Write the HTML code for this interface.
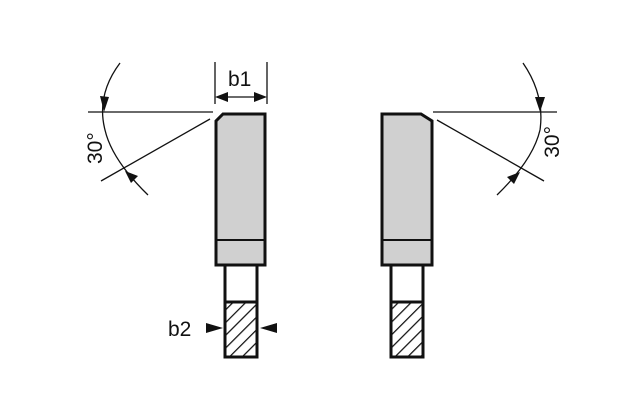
<!DOCTYPE html>
<html><head><style>body{margin:0;background:#fff}svg{display:block}</style></head><body>
<svg width="640" height="420" viewBox="0 0 640 420" xmlns="http://www.w3.org/2000/svg" font-family="Liberation Sans, sans-serif">
<defs>
<pattern id="h" width="9" height="9" patternUnits="userSpaceOnUse" patternTransform="rotate(45)">
<rect width="9" height="9" fill="#fff"/><line x1="0" y1="0" x2="0" y2="9" stroke="#111" stroke-width="2.5"/>
</pattern>
</defs>
<path d="M223,114 L265,114 L265,265 L216,265 L216,121 Z" fill="#d0d0d0" stroke="#111" stroke-width="3"/>
<line x1="216" y1="240" x2="265" y2="240" stroke="#111" stroke-width="2"/>
<rect x="225" y="265" width="32" height="92" fill="#fff" stroke="#111" stroke-width="3"/>
<rect x="225" y="302" width="32" height="55" fill="url(#h)" stroke="#111" stroke-width="3"/>
<path d="M382,114 L421,114 L432,121 L432,265 L382,265 Z" fill="#d0d0d0" stroke="#111" stroke-width="3"/>
<line x1="382" y1="240" x2="432" y2="240" stroke="#111" stroke-width="2"/>
<rect x="391" y="265" width="32" height="92" fill="#fff" stroke="#111" stroke-width="3"/>
<rect x="391" y="302" width="32" height="55" fill="url(#h)" stroke="#111" stroke-width="3"/>
<g stroke="#111" stroke-width="1.3" fill="none">
<line x1="88" y1="112" x2="213" y2="112"/>
<line x1="210" y1="119" x2="101" y2="181"/>
<path d="M120,63 Q96,95 105,130 Q112,160 148,195"/>
<line x1="215" y1="62" x2="215" y2="104"/>
<line x1="267" y1="62" x2="267" y2="104"/>
<line x1="220" y1="97" x2="262" y2="97"/>
<line x1="433" y1="112" x2="557" y2="112"/>
<line x1="437" y1="120" x2="544" y2="181"/>
<path d="M523,63 Q545,95 540,130 Q533,160 497,195"/>
</g>
<g fill="#111">
<polygon points="104,112 100,96 109,97"/>
<polygon points="125,171 138,176 131,183"/>
<polygon points="215,97 228,92 228,102"/>
<polygon points="267,97 254,92 254,102"/>
<polygon points="540,112 535,97 545,97"/>
<polygon points="520,172 507,177 514,184"/>
<polygon points="223,328 206,323 206,333"/>
<polygon points="260,328 277,323 277,333"/>
</g>
<g font-size="21" fill="#111">
<text x="228" y="86">b1</text>
<text x="168" y="336">b2</text>
<text transform="translate(102,164) rotate(-90)">30°</text>
<text transform="translate(559,126) rotate(-90)" text-anchor="end">30°</text>
</g>
</svg>
</body></html>
